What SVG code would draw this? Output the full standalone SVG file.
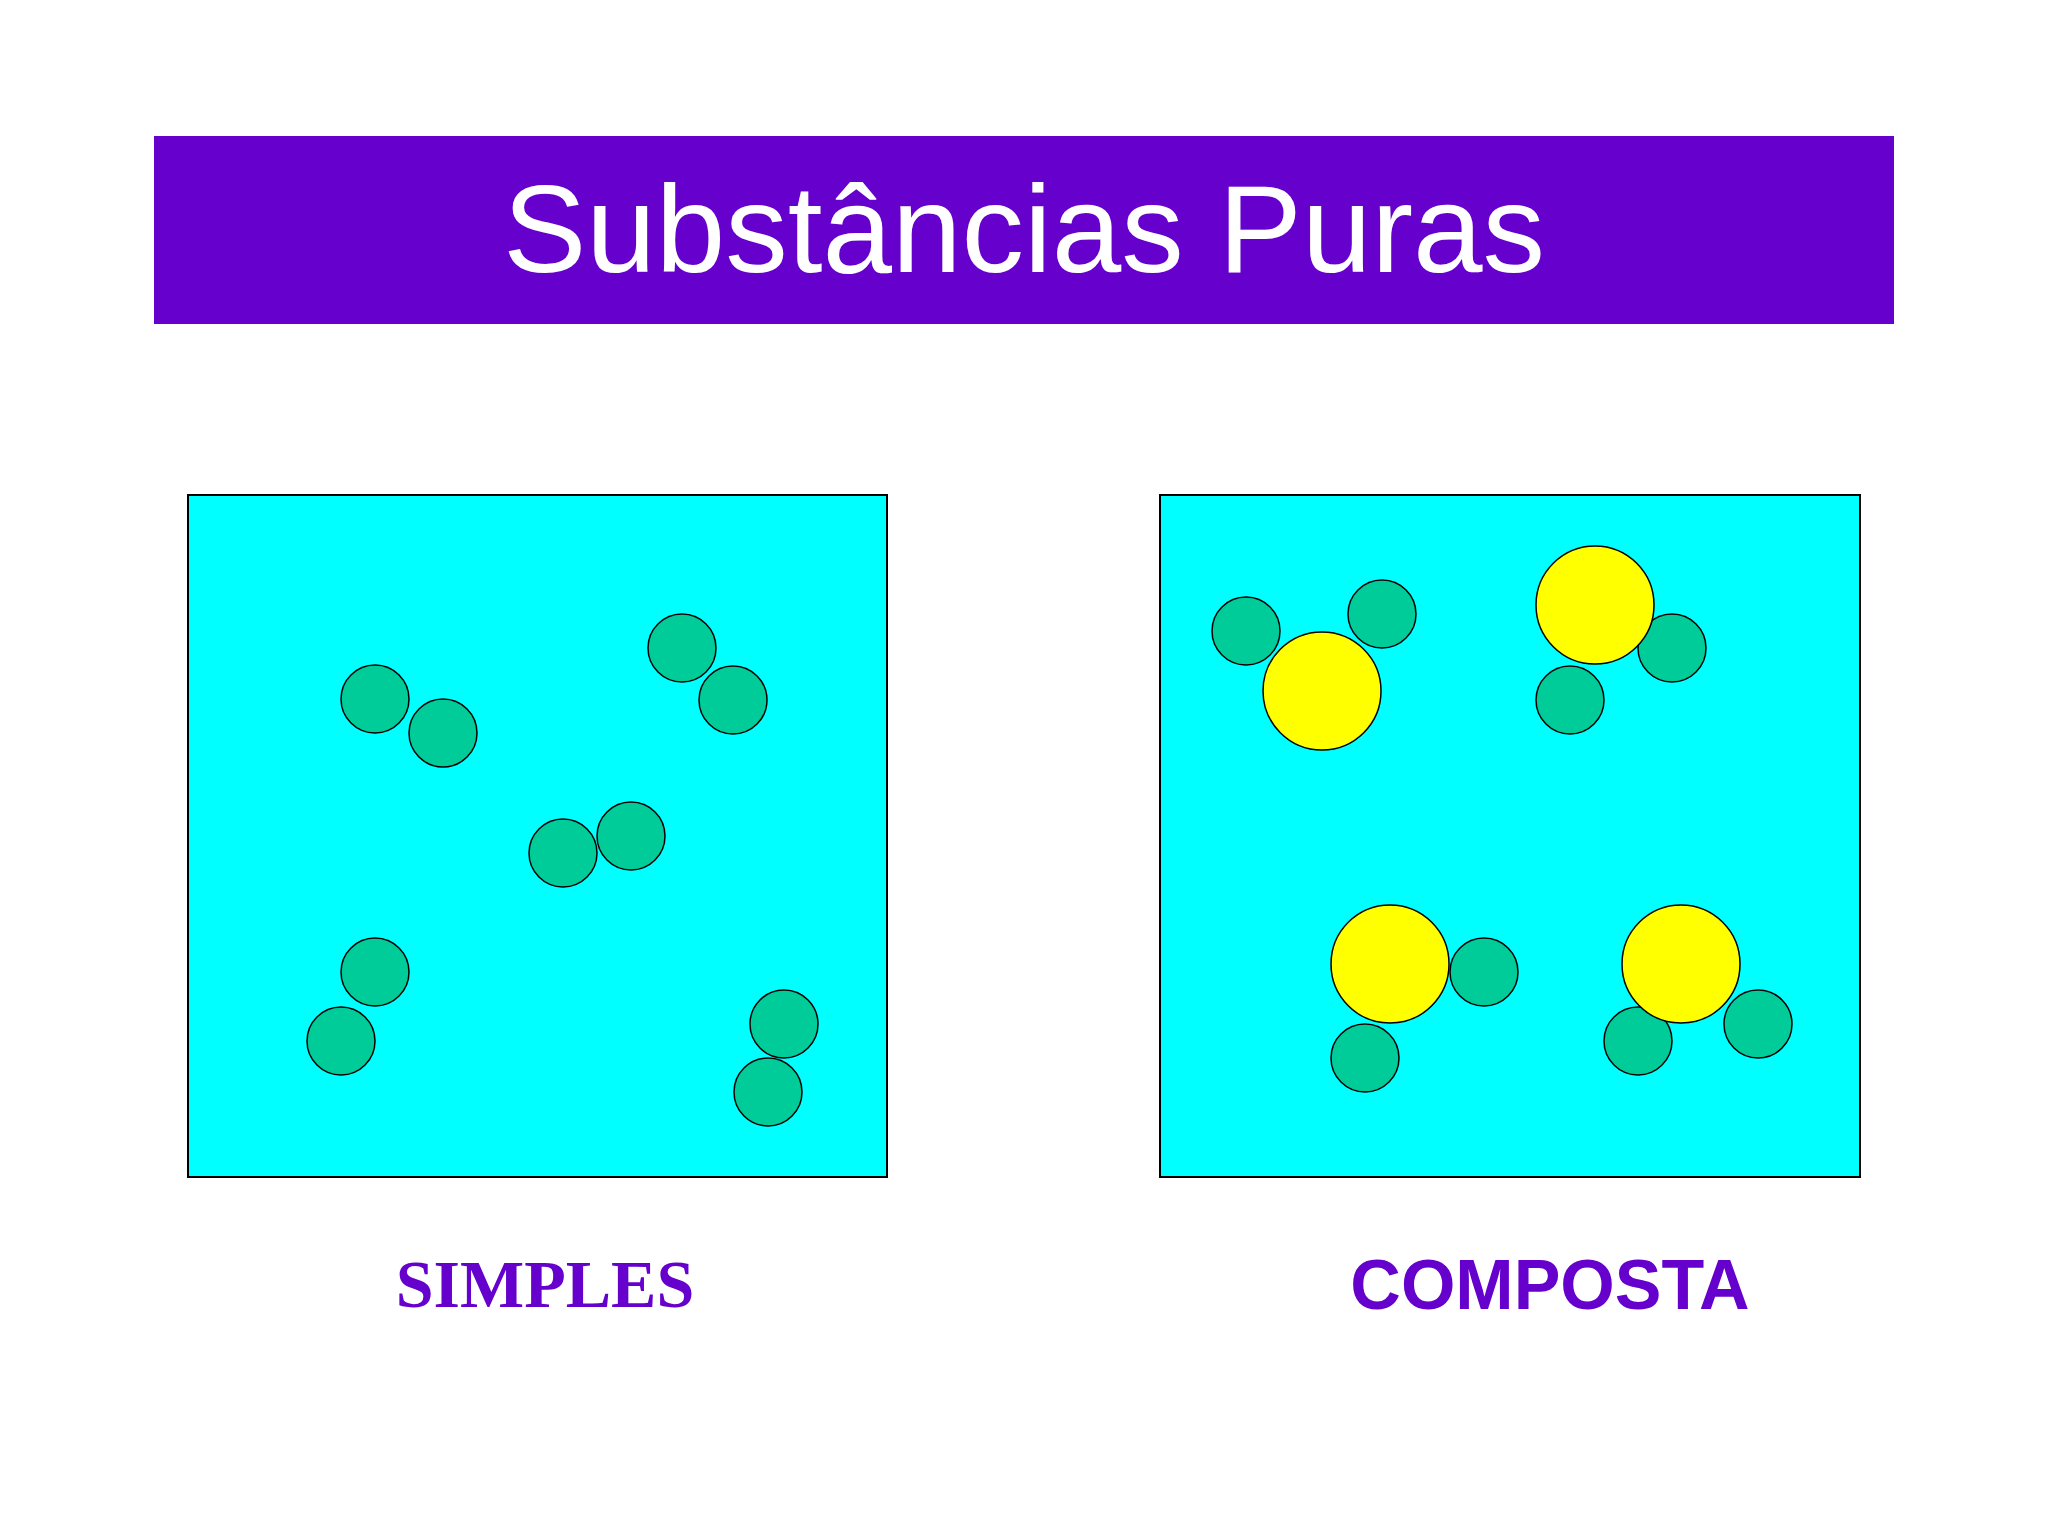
<svg xmlns="http://www.w3.org/2000/svg" width="2048" height="1536" viewBox="0 0 2048 1536">
<style>
.g{fill:#00CC99;stroke:#000;stroke-width:1.5}
.y{fill:#FFFF00;stroke:#000;stroke-width:1.5}
.box{fill:#00FFFF;stroke:#000;stroke-width:2}
</style>
<rect width="2048" height="1536" fill="#fff"/>
<g id="banner">
<rect x="154" y="136" width="1740" height="188" fill="#6600CC"/>
<text x="1024" y="272" text-anchor="middle" font-family="Liberation Sans, Arial, sans-serif" font-size="125" fill="#fff">Substâncias Puras</text>
</g>
<g id="simples">
<rect class="box" x="188" y="495" width="699" height="682"/>
<circle class="g" cx="375" cy="699" r="34"/><circle class="g" cx="443" cy="733" r="34"/>
<circle class="g" cx="682" cy="648" r="34"/><circle class="g" cx="733" cy="700" r="34"/>
<circle class="g" cx="563" cy="853" r="34"/><circle class="g" cx="631" cy="836" r="34"/>
<circle class="g" cx="375" cy="972" r="34"/><circle class="g" cx="341" cy="1041" r="34"/>
<circle class="g" cx="784" cy="1024" r="34"/><circle class="g" cx="768" cy="1092" r="34"/>
<text x="545" y="1307" text-anchor="middle" font-family="Liberation Serif, Times New Roman, serif" font-weight="bold" font-size="68" fill="#6600CC">SIMPLES</text>
</g>
<g id="composta">
<rect class="box" x="1160" y="495" width="700" height="682"/>
<circle class="g" cx="1246" cy="631" r="34"/><circle class="g" cx="1382" cy="614" r="34"/><circle class="y" cx="1322" cy="691" r="59"/>
<circle class="g" cx="1672" cy="648" r="34"/><circle class="g" cx="1570" cy="700" r="34"/><circle class="y" cx="1595" cy="605" r="59"/>
<circle class="g" cx="1484" cy="972" r="34"/><circle class="g" cx="1365" cy="1058" r="34"/><circle class="y" cx="1390" cy="964" r="59"/>
<circle class="g" cx="1638" cy="1041" r="34"/><circle class="g" cx="1758" cy="1024" r="34"/><circle class="y" cx="1681" cy="964" r="59"/>
<text x="1550" y="1309" text-anchor="middle" font-family="Liberation Sans, Arial, sans-serif" font-weight="bold" font-size="70" fill="#6600CC">COMPOSTA</text>
</g>
</svg>
